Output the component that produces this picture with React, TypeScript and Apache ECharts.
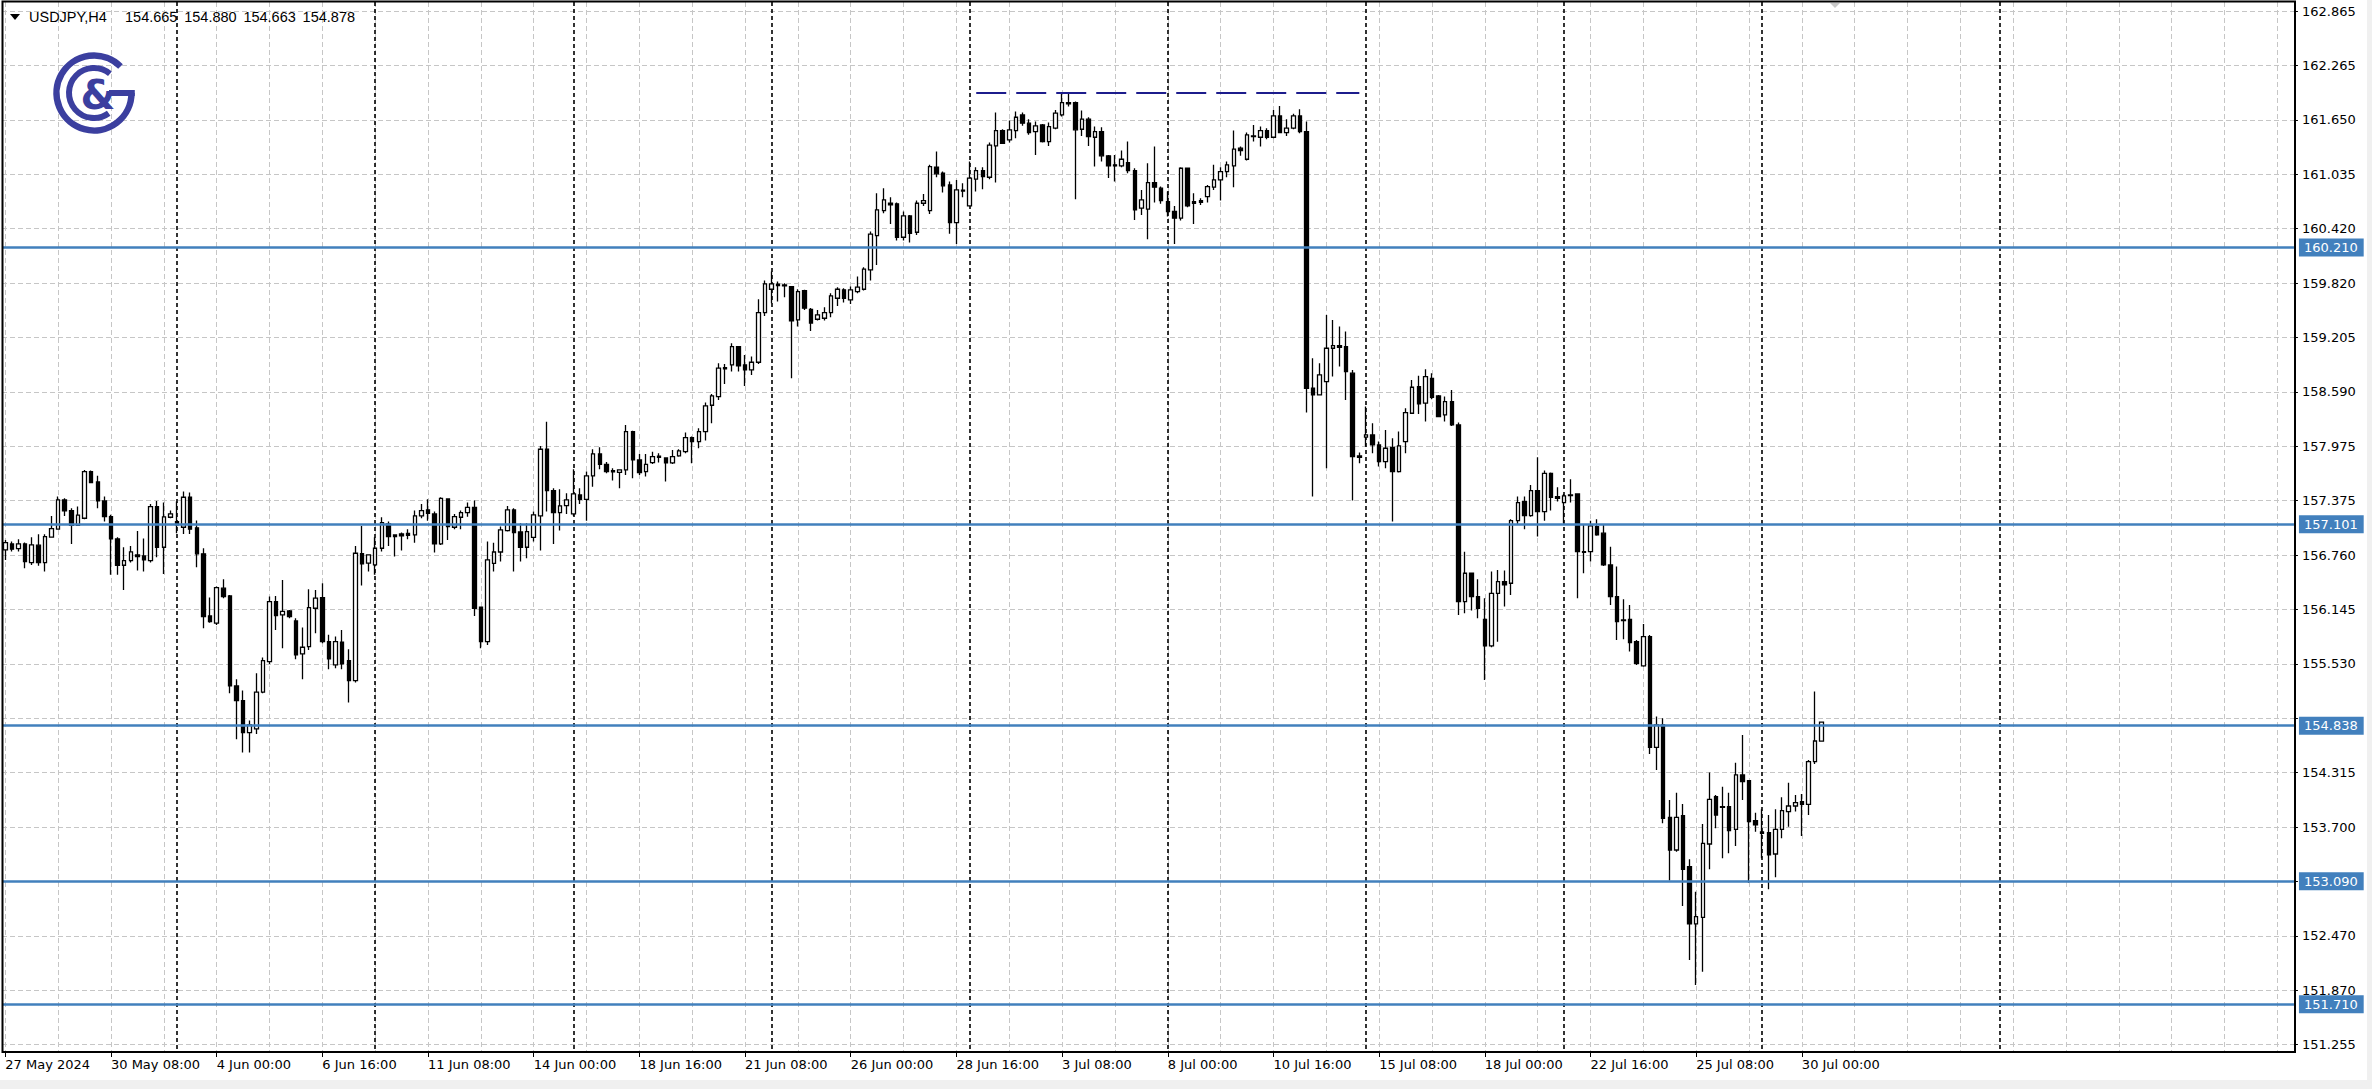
import React, { useEffect, useRef } from 'react';
import * as echarts from 'echarts';

// ---- Data (USDJPY H4), one entry per bar starting 27 May 2024 16:00 ----
const opens = [156.812,156.880,156.827,156.880,156.670,156.865,156.670,156.955,157.045,157.374,157.254,157.089,157.168,157.692,157.576,157.363,157.187,156.936,156.640,156.693,156.756,156.745,156.693,157.299,156.842,157.179,157.131,157.067,157.404,157.060,156.768,156.071,155.989,156.382,156.296,155.285,155.120,154.761,154.802,155.214,155.558,156.232,156.082,156.127,156.015,155.644,155.727,156.157,156.277,155.783,155.521,155.775,155.569,155.345,156.771,156.663,156.644,156.831,157.104,156.981,156.992,156.999,156.981,157.194,157.261,157.216,156.879,157.385,157.067,157.179,157.231,157.291,156.168,155.782,156.662,156.789,157.029,157.261,157.014,156.842,156.954,157.194,157.943,157.478,157.231,157.310,157.216,157.430,157.381,157.643,157.890,157.774,157.703,157.684,157.711,158.141,157.823,157.692,157.793,157.864,157.845,157.789,157.868,157.917,158.074,158.029,158.141,158.437,158.534,158.845,158.890,159.096,158.890,158.834,158.920,159.478,159.740,159.781,159.789,159.770,159.396,159.725,159.515,159.403,159.414,159.478,159.639,159.733,159.620,159.714,159.740,159.957,160.343,160.624,160.706,160.699,160.324,160.564,160.380,160.706,160.624,161.110,161.043,160.912,160.489,160.842,160.676,160.976,161.073,160.998,161.350,161.522,161.418,161.522,161.698,161.605,161.511,161.586,161.399,161.549,161.698,161.837,161.837,161.537,161.650,161.447,161.511,161.238,161.137,161.125,161.163,161.073,160.650,160.639,160.938,160.875,160.725,160.613,160.538,161.099,160.725,160.736,160.781,160.886,160.968,161.062,161.125,161.324,161.200,161.455,161.447,161.522,161.447,161.687,161.500,161.549,161.687,161.511,158.628,158.553,158.703,159.077,159.107,159.096,158.797,157.868,158.078,158.104,157.991,157.804,157.965,157.692,158.029,158.347,158.647,158.460,158.740,158.542,158.328,158.478,158.216,156.232,156.550,156.288,156.033,155.734,156.325,156.456,156.438,157.141,157.355,157.198,157.478,157.243,157.673,157.411,157.344,157.430,157.441,156.793,156.793,157.074,157.000,156.644,156.288,156.026,156.033,155.782,155.509,155.839,154.595,154.846,153.809,153.442,153.828,153.255,152.611,152.686,153.509,154.041,153.929,153.929,153.674,154.285,154.221,153.772,153.644,153.637,153.397,153.674,153.873,153.936,153.985,153.955,154.434,154.665];
const closes = [156.895,156.820,156.880,156.681,156.869,156.670,156.962,157.052,157.374,157.250,157.089,157.202,157.692,157.569,157.363,157.187,156.936,156.640,156.693,156.790,156.738,156.700,157.299,156.842,157.183,157.217,157.093,157.404,157.045,156.768,156.064,156.007,156.389,156.288,155.285,155.120,154.761,154.847,155.214,155.569,156.232,156.075,156.123,156.064,155.633,155.719,156.165,156.270,155.783,155.588,155.783,155.532,155.345,156.775,156.655,156.756,156.831,157.119,156.962,156.962,156.969,156.977,157.194,157.254,157.224,156.879,157.392,157.074,157.186,157.231,157.291,156.157,155.782,156.700,156.789,157.037,157.261,157.007,156.842,157.018,157.205,157.943,157.478,157.231,157.306,157.374,157.441,157.381,157.643,157.890,157.774,157.692,157.688,157.711,158.141,157.823,157.681,157.774,157.860,157.853,157.789,157.860,157.924,158.074,158.029,158.141,158.429,158.542,158.853,158.860,159.096,158.879,158.834,158.920,159.478,159.800,159.800,159.796,159.777,159.384,159.714,159.527,159.360,159.452,159.478,159.665,159.740,159.639,159.733,159.763,159.965,160.358,160.631,160.744,160.687,160.324,160.564,160.369,160.706,160.736,161.118,161.036,160.901,160.489,160.856,160.852,160.987,161.073,161.006,161.358,161.522,161.380,161.530,161.672,161.605,161.500,161.575,161.399,161.567,161.717,161.837,161.822,161.530,161.650,161.455,161.511,161.238,161.125,161.125,161.200,161.073,160.631,160.744,160.938,160.886,160.736,160.613,160.538,161.099,160.676,160.706,160.717,160.893,160.968,161.062,161.137,161.313,161.298,161.474,161.462,161.522,161.447,161.687,161.500,161.549,161.687,161.511,158.628,158.553,158.778,159.077,159.107,159.088,158.815,157.860,157.853,158.104,157.991,157.804,157.954,157.692,157.980,158.355,158.639,158.452,158.759,158.527,158.310,158.478,158.216,156.232,156.550,156.288,156.157,155.734,156.325,156.456,156.419,157.141,157.344,157.198,157.478,157.243,157.673,157.404,157.392,157.419,157.422,156.793,156.786,157.082,156.981,156.644,156.288,156.007,156.018,155.771,155.539,155.839,154.595,154.846,153.798,153.442,153.809,153.225,152.611,152.693,153.517,154.011,153.835,153.921,153.659,154.285,154.210,153.760,153.723,153.629,153.386,153.674,153.884,153.936,153.974,153.955,154.434,154.666,154.878];
const lows = [156.700,156.794,156.794,156.606,156.644,156.633,156.569,156.955,157.045,157.194,156.880,157.082,157.157,157.561,157.280,157.131,156.532,156.532,156.363,156.670,156.580,156.569,156.670,156.730,156.543,157.168,157.000,156.992,156.992,156.618,155.933,155.995,155.970,156.270,155.202,154.686,154.536,154.536,154.746,155.202,155.532,155.914,155.708,156.045,155.584,155.360,155.689,155.876,155.764,155.472,155.483,155.472,155.098,155.322,156.412,156.569,156.532,156.794,156.857,156.738,156.805,156.932,156.894,157.168,157.141,156.782,156.868,156.924,157.044,157.044,157.186,156.071,155.707,155.745,156.569,156.681,157.018,156.569,156.681,156.718,156.906,156.805,157.243,156.879,157.029,157.216,157.194,157.329,157.141,157.523,157.718,157.673,157.591,157.505,157.655,157.617,157.655,157.636,157.778,157.793,157.580,157.778,157.860,157.898,157.786,157.954,158.040,158.235,158.497,158.677,158.815,158.815,158.654,158.778,158.901,159.440,159.583,159.601,159.650,158.740,159.321,159.508,159.270,159.388,159.388,159.426,159.553,159.590,159.575,159.695,159.725,159.838,160.013,160.594,160.474,160.287,160.287,160.264,160.350,160.676,160.586,160.998,160.826,160.362,160.249,160.774,160.669,160.837,160.863,160.976,160.938,161.373,161.388,161.436,161.575,161.474,161.249,161.388,161.350,161.537,161.680,161.792,160.751,161.462,161.350,161.118,161.174,160.990,160.949,161.110,161.043,160.519,160.575,160.302,160.714,160.699,160.556,160.249,160.511,160.661,160.474,160.687,160.714,160.856,160.736,160.998,160.886,161.238,161.185,161.399,161.343,161.425,161.436,161.492,161.462,161.537,161.492,158.355,157.411,158.553,157.729,158.759,158.871,158.497,157.366,157.785,157.973,157.898,157.748,157.729,157.130,157.681,157.898,158.340,158.340,158.254,158.504,158.302,158.254,158.205,156.082,156.101,156.131,156.044,155.352,155.719,155.782,156.176,156.307,157.093,157.044,157.186,156.962,157.141,157.254,157.355,157.112,157.344,156.269,156.550,156.681,156.970,156.632,156.194,155.801,155.809,155.670,155.520,155.500,154.520,154.341,153.742,153.098,153.423,152.813,152.206,151.926,152.075,153.225,153.685,153.348,153.405,153.487,154.004,153.075,153.648,153.350,153.000,153.135,153.573,153.704,153.873,153.599,153.835,154.408,154.663];
const highs = [156.925,156.906,156.932,156.895,156.955,156.988,156.988,157.194,157.412,157.393,157.280,157.299,157.711,157.704,157.644,157.412,157.206,156.955,156.842,156.857,157.026,156.940,157.329,157.363,157.344,157.254,157.355,157.468,157.456,157.142,156.831,156.277,156.401,156.483,156.307,155.360,155.232,154.895,155.427,155.603,156.288,156.296,156.475,156.138,156.045,155.940,156.371,156.363,156.438,155.858,155.839,155.914,155.697,156.857,157.082,156.764,156.955,157.179,157.131,156.988,157.007,157.044,157.254,157.329,157.381,157.243,157.404,157.390,157.216,157.254,157.344,157.366,156.175,156.906,156.894,157.074,157.306,157.280,157.112,157.112,157.243,157.980,158.253,157.505,157.493,157.449,157.718,157.505,157.692,157.943,157.965,157.800,157.729,157.718,158.216,158.150,157.890,157.890,157.916,157.898,157.853,157.935,157.943,158.130,158.085,158.179,158.467,158.564,158.909,158.901,159.133,159.103,159.002,158.984,159.628,159.837,159.938,159.826,159.807,159.777,159.740,159.733,159.530,159.508,159.538,159.695,159.763,159.751,159.770,159.882,159.987,160.388,160.818,160.875,160.774,160.714,160.613,160.575,160.736,160.811,161.137,161.286,161.062,160.949,160.968,160.931,161.174,161.110,161.110,161.388,161.725,161.537,161.635,161.736,161.725,161.650,161.624,161.597,161.612,161.754,161.942,161.942,161.848,161.747,161.672,161.567,161.560,161.249,161.249,161.298,161.399,161.099,160.856,161.155,161.343,160.893,160.837,160.676,161.110,161.105,160.818,160.762,160.912,161.137,161.110,161.174,161.522,161.343,161.500,161.586,161.567,161.549,161.754,161.799,161.650,161.710,161.762,161.624,158.965,158.909,159.452,159.395,159.321,159.265,158.834,157.905,158.422,158.235,158.029,158.160,158.066,158.141,158.403,158.722,158.767,158.841,158.797,158.553,158.534,158.609,158.242,156.793,156.558,156.483,156.269,156.569,156.587,156.580,157.156,157.411,157.411,157.542,157.853,157.703,157.681,157.516,157.441,157.606,157.448,157.093,157.141,157.156,157.093,156.849,156.625,156.258,156.194,155.801,155.981,155.857,154.940,154.921,154.004,154.086,153.959,153.337,152.974,153.734,154.311,154.060,154.153,154.086,154.423,154.734,154.225,153.861,153.900,153.835,153.899,154.034,154.198,154.060,154.071,154.453,155.221,154.880];

// horizontal support / resistance levels (blue)
const levels = [160.21, 157.101, 154.838, 153.09, 151.71];
// dashed navy resistance segment
const topLevel = 161.945;
const topLevelFrom = 147;
const topLevelTo = 205;

// price axis
const yMin = 151.255;
const yStep = 0.611;
const yMax = 162.864;
const yTickLabels = ['151.255','151.870','152.470','153.085','153.700','154.315','154.915','155.530','156.145','156.760','157.375','157.975','158.590','159.205','159.820','160.420','161.035','161.650','162.265','162.865'];

const symbolName = 'USDJPY,H4';
const SLOTS = 347;
const MONTHS = ['Jan','Feb','Mar','Apr','May','Jun','Jul','Aug','Sep','Oct','Nov','Dec'];

// bar times: real bars skip weekends, future area runs continuously
function buildTimes(): number[] {
  const H4 = 4 * 3600e3;
  const t0 = Date.UTC(2024, 4, 27, 16);
  const out: number[] = [];
  let t = t0;
  for (let i = 0; i < SLOTS; i++) {
    out.push(t);
    t += H4;
    if (i < opens.length - 1) {
      let d = new Date(t).getUTCDay();
      while (d === 6 || d === 0) { t += H4; d = new Date(t).getUTCDay(); }
    }
  }
  return out;
}
const times = buildTimes();
const pad = (n: number) => (n < 10 ? '0' + n : '' + n);
const categories = times.map((t) => {
  const d = new Date(t);
  return `${d.getUTCDate()} ${MONTHS[d.getUTCMonth()]} ${pad(d.getUTCHours())}:${pad(d.getUTCMinutes())}`;
});
const firstLabel = (() => { const d = new Date(times[0]); return `${d.getUTCDate()} ${MONTHS[d.getUTCMonth()]} ${d.getUTCFullYear()}`; })();
const weekBase = Date.UTC(2024, 4, 26);
const weekKey = (t: number) => Math.floor((t - weekBase) / (7 * 86400e3));
const separators = new Set<number>();
for (let i = 1; i < times.length; i++) {
  if (weekKey(times[i]) !== weekKey(times[i - 1]) && i < opens.length + 40) separators.add(i);
}
const lastLabelIdx = opens.length - 4;

const FONT = '"DejaVu Sans", Tahoma, sans-serif';
const HEAD_FONT = '"Liberation Sans", Arial, sans-serif';
const GRID_GRAY = '#c6c6c6';
const LEVEL_BLUE = '#4280bd';
const LOGO = '#3b3f9f';

const SLOT_W = 6.605;
const LEFT = 2;
const PLOT_RIGHT = LEFT + SLOTS * SLOT_W; // 2293.9
const W = 2372;
const H = 1089;

export default function App() {
  const ref = useRef<HTMLDivElement>(null);
  useEffect(() => {
    if (!ref.current) return;
    const chart = echarts.init(ref.current, null, { renderer: 'svg' });
    const candleData = opens.map((o, i) => [o, closes[i], lows[i], highs[i]]);
    const last = opens.length - 1;
    const headerVals = [opens[last], highs[last], lows[last], closes[last]].map((v) => v.toFixed(3));
    const tickHidden = (i: number) => {
      const v = yMin + i * yStep;
      return levels.some((l) => Math.abs(l - v) < 0.1);
    };

    chart.setOption({
      animation: false,
      backgroundColor: '#ffffff',
      textStyle: { fontFamily: FONT },
      grid: [
        { left: LEFT, right: W - PLOT_RIGHT, top: 11.1, bottom: H - 1044.7, containLabel: false },
        { left: LEFT + SLOT_W / 2, right: W - (PLOT_RIGHT - SLOT_W / 2), top: 2, bottom: H - 1052, containLabel: false },
      ],
      xAxis: [
        {
          type: 'category', gridIndex: 0, data: categories, boundaryGap: true,
          axisLine: { show: false }, axisTick: { show: false }, axisLabel: { show: false }, splitLine: { show: false },
        },
        {
          type: 'category', gridIndex: 1, data: categories, boundaryGap: false, position: 'bottom',
          axisLine: { show: false },
          axisTick: { show: true, length: 5, interval: (i: number) => i % 16 === 0 && i <= lastLabelIdx, lineStyle: { color: '#000', width: 1 } },
          axisLabel: {
            show: true, interval: (i: number) => i % 16 === 0 && i <= lastLabelIdx,
            formatter: (v: string, i: number) => (i === 0 ? firstLabel : v),
            align: 'left', margin: 6, color: '#000', fontSize: 13, fontFamily: FONT,
          },
          splitLine: { show: true, interval: (i: number) => i % 8 === 0, lineStyle: { color: GRID_GRAY, type: [5, 3], width: 1 } },
        },
        {
          type: 'category', gridIndex: 1, data: categories, boundaryGap: false, position: 'bottom',
          axisLine: { show: false }, axisTick: { show: false }, axisLabel: { show: false },
          splitLine: { show: true, interval: (i: number) => separators.has(i), lineStyle: { color: '#000', type: [4, 3], width: 1.6 } },
        },
      ],
      yAxis: [
        {
          type: 'value', gridIndex: 0, position: 'right', min: yMin, max: yMax, interval: yStep, scale: true,
          axisLine: { show: false },
          axisTick: { show: true, length: 4, lineStyle: { color: '#000' } },
          axisLabel: {
            show: true, margin: 8, color: '#000', fontSize: 13, fontFamily: FONT,
            formatter: (_v: number, i: number) => (tickHidden(i) ? '' : yTickLabels[i] ?? ''),
          },
          splitLine: { show: true, lineStyle: { color: GRID_GRAY, type: [5, 3], width: 1 } },
        },
        { type: 'value', gridIndex: 1, min: 0, max: 1, show: false, splitLine: { show: false } },
      ],
      series: [
        {
          type: 'candlestick', xAxisIndex: 0, yAxisIndex: 0, data: candleData, barWidth: 4, z: 3,
          itemStyle: { color: '#ffffff', color0: '#000000', borderColor: '#000000', borderColor0: '#000000', borderWidth: 1.3 },
          markLine: {
            silent: true, symbol: ['none', 'none'], animation: false, precision: 3,
            lineStyle: { color: LEVEL_BLUE, width: 2.6, type: 'solid' },
            label: {
              show: true, position: 'end', distance: 5, formatter: (p: any) => Number(p.value).toFixed(3),
              backgroundColor: LEVEL_BLUE, color: '#ffffff', fontSize: 13, fontFamily: FONT, padding: [3, 6, 2, 5],
            },
            data: levels.map((v) => ({ yAxis: v })),
          },
        },
        {
          type: 'line', xAxisIndex: 0, yAxisIndex: 0, symbol: 'none', silent: true, z: 4,
          lineStyle: { color: '#1c1c8c', width: 2, type: [30, 10] },
          data: [[categories[topLevelFrom], topLevel], [categories[topLevelTo], topLevel]],
        },
      ],
      graphic: [
        { type: 'rect', silent: true, z: 100, shape: { x: 2.5, y: 1.5, width: 2292.5, height: 1050.5 }, style: { fill: 'none', stroke: '#000', lineWidth: 2 } },
        { type: 'rect', silent: true, z: 1, shape: { x: 2367, y: 0, width: 5, height: H }, style: { fill: '#f0f0f0' } },
        { type: 'rect', silent: true, z: 1, shape: { x: 0, y: 1080, width: W, height: 9 }, style: { fill: '#f0f0f0' } },
        { type: 'polygon', silent: true, z: 101, shape: { points: [[10, 14], [20, 14], [15, 20]] }, style: { fill: '#000' } },
        { type: 'polygon', silent: true, z: 101, shape: { points: [[1830, 3], [1840, 3], [1835, 8]] }, style: { fill: '#c8c8c8' } },
        { type: 'text', silent: true, z: 101, x: 29, y: 17, style: { text: symbolName, fill: '#000', fontSize: 14.5, fontFamily: HEAD_FONT, verticalAlign: 'middle' } },
        ...headerVals.map((t, k) => ({ type: 'text', silent: true, z: 101, x: 125 + k * 59.2, y: 17, style: { text: t, fill: '#000', fontSize: 14.5, fontFamily: HEAD_FONT, verticalAlign: 'middle' } })),
        // logo
        { type: 'arc', silent: true, z: 101, shape: { cx: 94, cy: 93, r: 37.5, startAngle: 0, endAngle: Math.PI * 1.75, clockwise: true }, style: { stroke: LOGO, lineWidth: 6.5, fill: 'none' } },
        { type: 'line', silent: true, z: 101, shape: { x1: 109, y1: 93, x2: 134.8, y2: 93 }, style: { stroke: LOGO, lineWidth: 6 } },
        { type: 'arc', silent: true, z: 101, shape: { cx: 94, cy: 93, r: 25, startAngle: Math.PI * 0.3, endAngle: Math.PI * 1.72, clockwise: true }, style: { stroke: LOGO, lineWidth: 6, fill: 'none' } },
        { type: 'text', silent: true, z: 102, x: 98, y: 95, style: { text: '&', fill: LOGO, fontSize: 40, fontWeight: 'bold', fontFamily: FONT, align: 'center', verticalAlign: 'middle' } },
      ],
    });
    return () => chart.dispose();
  }, []);
  return <div ref={ref} style={{ position: 'fixed', left: 0, top: 0, width: W, height: H, background: '#fff' }} />;
}
